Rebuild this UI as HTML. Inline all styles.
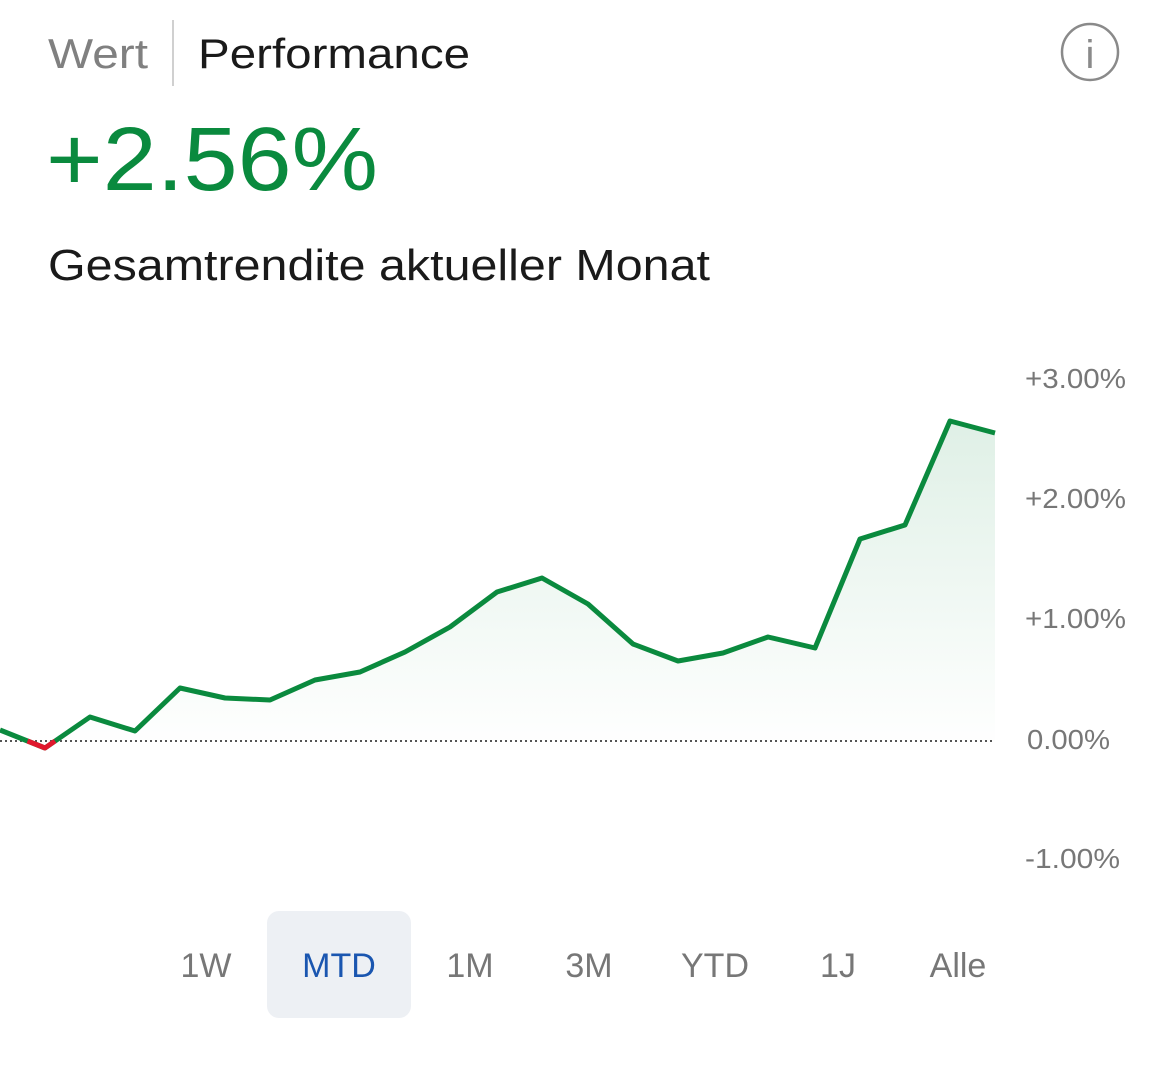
<!DOCTYPE html>
<html><head><meta charset="utf-8"><style>
html,body{margin:0;padding:0;background:#fff;width:1170px;height:1065px;overflow:hidden;font-family:"Liberation Sans",sans-serif}
</style></head><body>
<svg width="1170" height="1065" xmlns="http://www.w3.org/2000/svg" style="position:absolute;left:0;top:0">
<defs><linearGradient id="g" x1="0" y1="0" x2="0" y2="1"><stop offset="0" stop-color="#0a8a3e" stop-opacity="0.13"/><stop offset="1" stop-color="#0a8a3e" stop-opacity="0"/></linearGradient></defs>
<text x="48" y="68" font-size="42" fill="#808080" textLength="100" lengthAdjust="spacingAndGlyphs">Wert</text>
<line x1="173" y1="20" x2="173" y2="86" stroke="#d0d0d0" stroke-width="2"/>
<text x="198" y="68" font-size="42" fill="#1a1a1a" textLength="272" lengthAdjust="spacingAndGlyphs">Performance</text>
<circle cx="1090" cy="52" r="28" fill="none" stroke="#8a8a8a" stroke-width="2.5"/>
<text x="1090" y="68" font-size="40" fill="#8a8a8a" text-anchor="middle">i</text>
<text x="46" y="190" font-size="90" fill="#0a8a3e" textLength="332" lengthAdjust="spacingAndGlyphs">+2.56%</text>
<text x="48" y="280" font-size="44" fill="#1a1a1a" textLength="662" lengthAdjust="spacingAndGlyphs">Gesamtrendite aktueller Monat</text>
<path d="M0,730 L45,748 L90,717 L135,731 L180,688 L225,698 L270,700 L315,680 L360,672 L405,652 L450,627 L497,592 L542,578 L588,604 L633,644 L678,661 L723,653 L768,637 L815,648 L860,539 L905,525 L950,421 L995,433 L995,741 L0,741 Z" fill="url(#g)"/>
<line x1="0" y1="741" x2="995" y2="741" stroke="#555" stroke-width="2" stroke-dasharray="2,3"/>
<polyline fill="none" stroke="#0a8a3e" stroke-width="5" stroke-linejoin="round" points="0,730 45,748 90,717 135,731 180,688 225,698 270,700 315,680 360,672 405,652 450,627 497,592 542,578 588,604 633,644 678,661 723,653 768,637 815,648 860,539 905,525 950,421 995,433"/>
<polyline fill="none" stroke="#e0182d" stroke-width="5" stroke-linejoin="round" points="27.5,741 45,748 55,741"/>
<g font-size="28" fill="#777">
<text x="1025" y="388" textLength="101" lengthAdjust="spacingAndGlyphs">+3.00%</text>
<text x="1025" y="508" textLength="101" lengthAdjust="spacingAndGlyphs">+2.00%</text>
<text x="1025" y="628" textLength="101" lengthAdjust="spacingAndGlyphs">+1.00%</text>
<text x="1027" y="749" textLength="83" lengthAdjust="spacingAndGlyphs">0.00%</text>
<text x="1025" y="868" textLength="95" lengthAdjust="spacingAndGlyphs">-1.00%</text>
</g>
<rect x="267" y="911" width="144" height="107" rx="12" fill="#edf0f4"/>
<g font-size="34" fill="#777" text-anchor="middle">
<text x="206" y="977">1W</text>
<text x="339" y="977" fill="#1a56b0">MTD</text>
<text x="470" y="977">1M</text>
<text x="589" y="977">3M</text>
<text x="715" y="977">YTD</text>
<text x="838" y="977">1J</text>
<text x="958" y="977">Alle</text>
</g>
</svg>
</body></html>
